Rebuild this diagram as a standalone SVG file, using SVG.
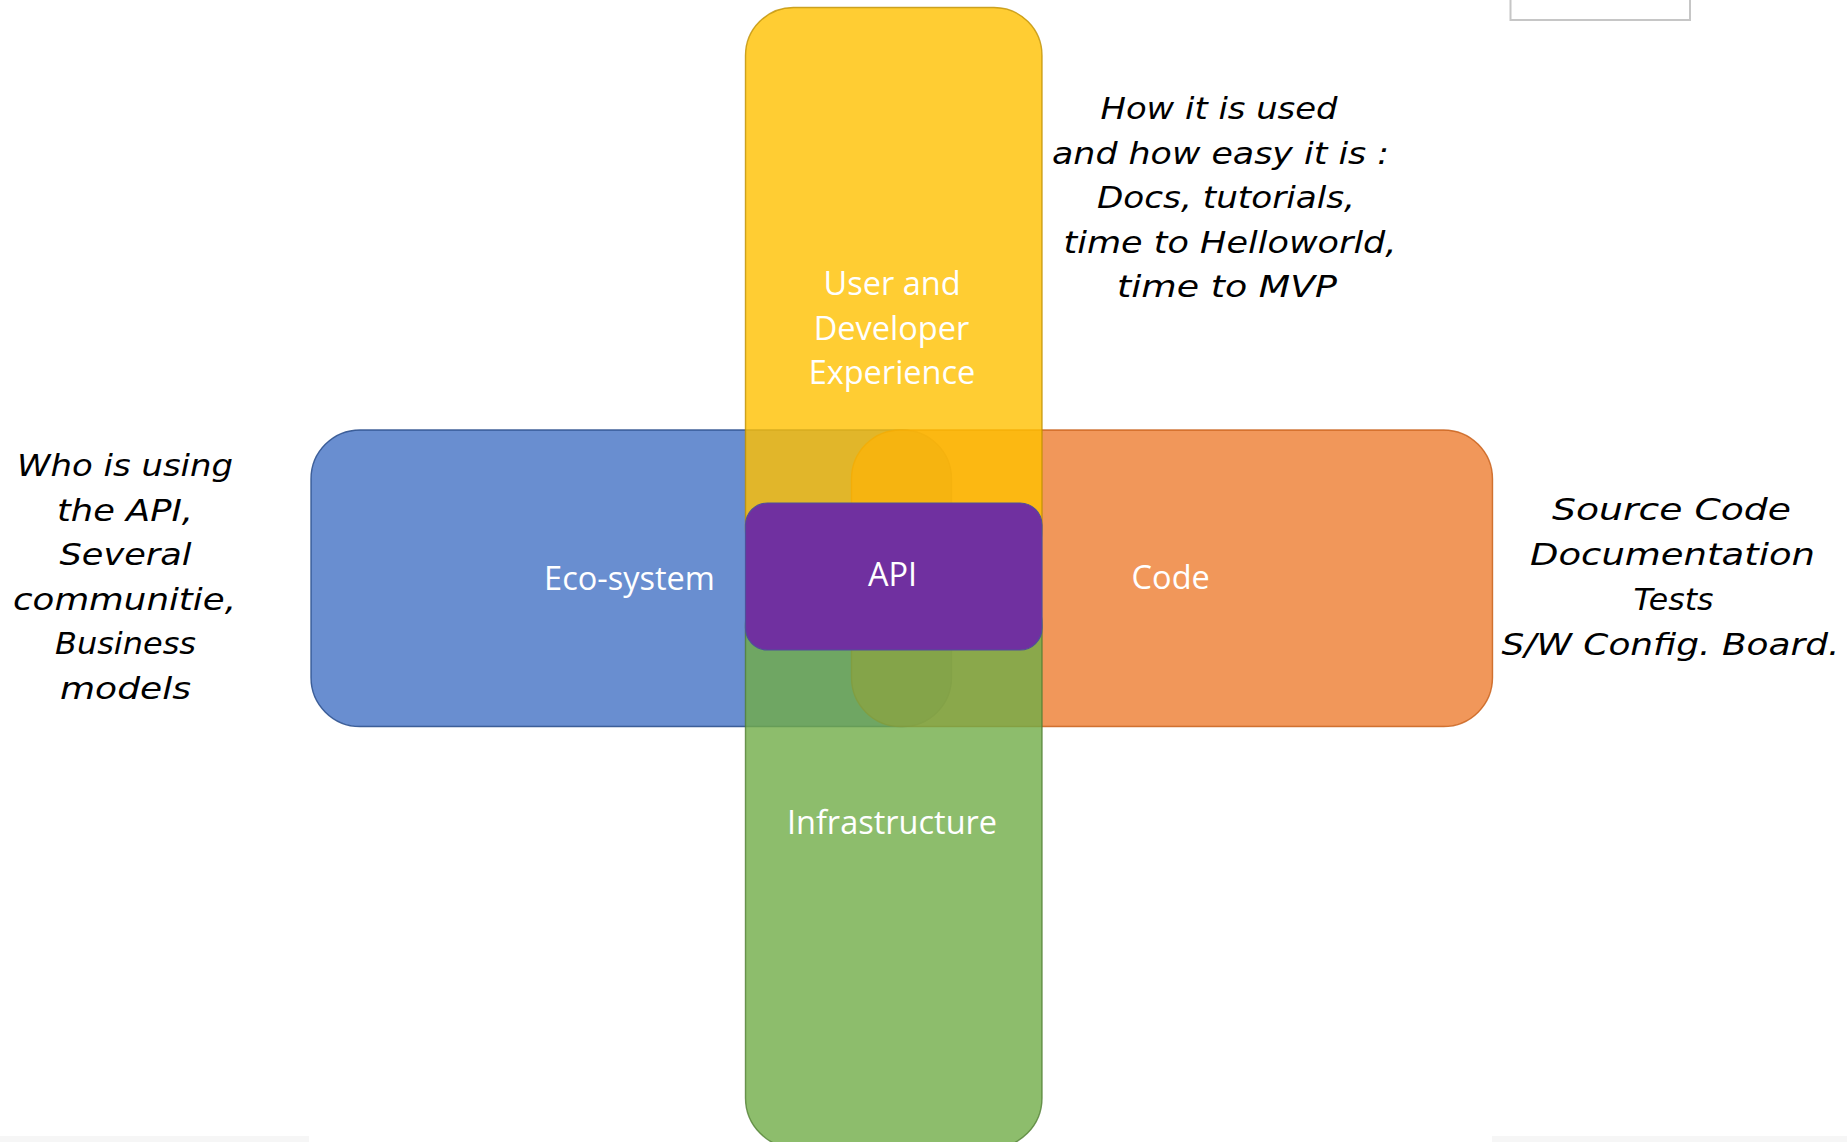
<svg xmlns="http://www.w3.org/2000/svg" width="1847" height="1142" viewBox="0 0 1847 1142">
<style>
.lbl{font-family:"Open Sans","Noto Sans","DejaVu Sans",sans-serif;font-size:32.5px;fill:#FFFFFF;text-anchor:middle}
.note{font-family:"DejaVu Sans","Noto Sans",sans-serif;font-style:italic;font-size:31px;fill:#000000}
.bar{stroke-width:1.4}
</style>
<rect x="0" y="0" width="1847" height="1142" fill="#FFFFFF"/>
<g id="strips">
<rect x="0" y="1136" width="309" height="6" fill="#F6F6F6"/>
<rect x="1492" y="1136" width="355" height="6" fill="#F6F6F6"/>
</g>
<g id="corner-box">
<rect x="1510.5" y="-10" width="179.5" height="30" fill="#FFFFFF" stroke="#C6C6C6" stroke-width="2"/>
</g>
<g id="connectors"></g>
<g id="eco-system">
<rect class="bar" x="311" y="430" width="640.5" height="296.5" rx="49" fill="#4472C4" fill-opacity="0.8" stroke="#2F528F" stroke-opacity="0.9"/>
<text class="lbl" x="629.5" y="590">Eco-system</text>
</g>
<g id="code">
<rect class="bar" x="851.5" y="430" width="641" height="296.5" rx="49" fill="#ED7D31" fill-opacity="0.8" stroke="#C55A11" stroke-opacity="0.8"/>
<text class="lbl" x="1170.7" y="589">Code</text>
</g>
<g id="user-developer-experience">
<rect class="bar" x="745.5" y="7.5" width="296.5" height="570" rx="48" fill="#FFC000" fill-opacity="0.8" stroke="#BF9000" stroke-opacity="0.8"/>
<text class="lbl" x="892" y="295">User and</text>
<text class="lbl" x="891.5" y="339.5">Developer</text>
<text class="lbl" x="892" y="384">Experience</text>
</g>
<g id="infrastructure">
<rect class="bar" x="745.5" y="575" width="296.5" height="573" rx="50" fill="#70AD47" fill-opacity="0.8" stroke="#507E32" stroke-opacity="0.8"/>
<text class="lbl" x="892" y="834">Infrastructure</text>
</g>
<g id="api">
<rect x="745.5" y="503" width="296.5" height="147" rx="22" fill="#7030A0" stroke="#4F4F9A" stroke-width="1.2"/>
<text class="lbl" x="892.5" y="586">API</text>
</g>
<g id="note-usage">
<text class="note" x="1100.5" y="119" textLength="237" lengthAdjust="spacingAndGlyphs">How it is used</text>
<text class="note" x="1052" y="163.5" textLength="337" lengthAdjust="spacingAndGlyphs">and how easy it is :</text>
<text class="note" x="1097" y="208" textLength="258" lengthAdjust="spacingAndGlyphs">Docs, tutorials,</text>
<text class="note" x="1063.5" y="252.5" textLength="333" lengthAdjust="spacingAndGlyphs">time to Helloworld,</text>
<text class="note" x="1117" y="297" textLength="220" lengthAdjust="spacingAndGlyphs">time to MVP</text>
</g>
<g id="note-users">
<text class="note" x="17" y="476" textLength="216" lengthAdjust="spacingAndGlyphs">Who is using</text>
<text class="note" x="57" y="520.5" textLength="136" lengthAdjust="spacingAndGlyphs">the API,</text>
<text class="note" x="59.5" y="565" textLength="132" lengthAdjust="spacingAndGlyphs">Several</text>
<text class="note" x="13" y="609.5" textLength="223" lengthAdjust="spacingAndGlyphs">communitie,</text>
<text class="note" x="55" y="654" textLength="141" lengthAdjust="spacingAndGlyphs">Business</text>
<text class="note" x="60" y="698.5" textLength="131" lengthAdjust="spacingAndGlyphs">models</text>
</g>
<g id="note-code">
<text class="note" x="1552" y="520" textLength="239" lengthAdjust="spacingAndGlyphs">Source Code</text>
<text class="note" x="1530" y="565" textLength="285" lengthAdjust="spacingAndGlyphs">Documentation</text>
<text class="note" x="1633.5" y="610" textLength="80" lengthAdjust="spacingAndGlyphs">Tests</text>
<text class="note" x="1501.5" y="655" textLength="338" lengthAdjust="spacingAndGlyphs">S/W Config. Board.</text>
</g>
</svg>
